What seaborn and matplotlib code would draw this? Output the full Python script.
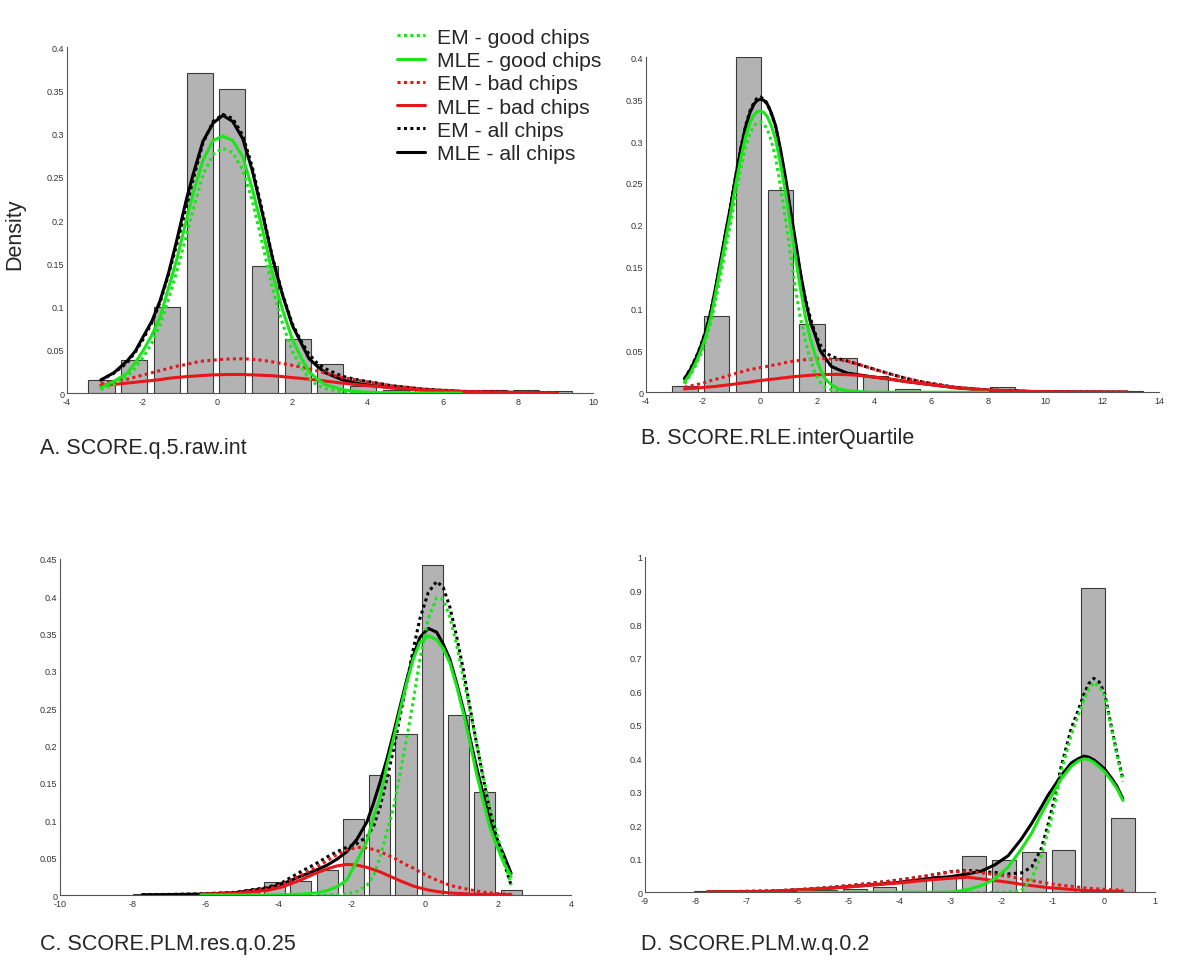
import numpy as np
import matplotlib
matplotlib.use("Agg")
import matplotlib.pyplot as plt
from matplotlib.ticker import FuncFormatter, MultipleLocator
import seaborn as sns

nan = np.nan

# --- Panel A: SCORE.q.5.raw.int ---
a_bar_x = [-3.08, -2.21, -1.34, -0.47, 0.40, 1.27, 2.14, 3.01, 3.88, 4.75, 5.62, 6.49, 7.36, 8.23, 9.10]
a_bar_h = [0.015, 0.038, 0.100, 0.370, 0.352, 0.147, 0.063, 0.034, 0.008, 0.004, 0.003, 0.002, 0.003, 0.003, 0.002]
a_x = [-3.1, -2.75, -2.4, -2.18, -1.96, -1.74, -1.52, -1.3, -1.08, -0.82, -0.64, -0.38, -0.11, 0.15, 0.41,
       0.68, 0.94, 1.21, 1.47, 1.74, 2.0, 2.22, 2.44, 2.66, 2.88, 3.32, 3.76, 4.2, 4.64, 5.5, 6.5, 7.5, 8.5, 9.05]
a_em_good = [0.004, 0.0096, 0.019, 0.029, 0.042, 0.058, 0.079, 0.108, 0.140, 0.182, 0.212, 0.252, 0.276, 0.283, 0.278,
             0.258, 0.221, 0.171, 0.121, 0.080, 0.048, 0.031, 0.017, 0.009, 0.005, 0.0015, 0.0005, 0.0002, 0.0,
             nan, nan, nan, nan, nan]
a_mle_good = [0.006, 0.0135, 0.023, 0.035, 0.050, 0.067, 0.088, 0.121, 0.154, 0.200, 0.231, 0.269, 0.292, 0.297, 0.292,
              0.273, 0.235, 0.188, 0.138, 0.096, 0.062, 0.042, 0.025, 0.016, 0.0096, 0.004, 0.0015, 0.0005, 0.0002,
              0.0, 0.0, nan, nan, nan]
a_em_bad = [0.011, 0.0135, 0.016, 0.0185, 0.021, 0.0235, 0.026, 0.0285, 0.031, 0.033, 0.035, 0.037, 0.038, 0.039, 0.0395,
            0.0396, 0.039, 0.0378, 0.036, 0.034, 0.032, 0.030, 0.028, 0.0255, 0.023, 0.018, 0.0146, 0.0115, 0.0085,
            0.0045, 0.002, 0.001, 0.0005, 0.0003]
a_mle_bad = [0.009, 0.010, 0.0115, 0.0125, 0.0135, 0.0145, 0.0155, 0.017, 0.018, 0.019, 0.0195, 0.0203, 0.021, 0.0213,
             0.0215, 0.0214, 0.021, 0.0205, 0.020, 0.019, 0.0178, 0.017, 0.016, 0.015, 0.0138, 0.0115, 0.0095, 0.0078,
             0.006, 0.0035, 0.0017, 0.0008, 0.0004, 0.0002]
a_em_all = [0.015, 0.023, 0.035, 0.0475, 0.063, 0.0815, 0.105, 0.1365, 0.171, 0.215, 0.247, 0.289, 0.314, 0.322, 0.3175,
            0.298, 0.260, 0.209, 0.157, 0.114, 0.080, 0.061, 0.045, 0.0345, 0.028, 0.0195, 0.015, 0.012, 0.0085,
            0.0045, 0.002, 0.001, 0.0005, 0.0003]
a_mle_all = [0.015, 0.0235, 0.037, 0.0485, 0.066, 0.083, 0.107, 0.138, 0.176, 0.224, 0.253, 0.291, 0.312, 0.321, 0.314,
             0.294, 0.256, 0.206, 0.156, 0.113, 0.078, 0.059, 0.040, 0.031, 0.0234, 0.0155, 0.011, 0.0083, 0.0062,
             0.0035, 0.0017, 0.0008, 0.0004, 0.0002]

# --- Panel B: SCORE.RLE.interQuartile ---
b_bar_x = [-2.63, -1.52, -0.40, 0.71, 1.83, 2.94, 4.06, 5.17, 6.29, 7.40, 8.52, 9.63, 10.75, 11.86, 12.98]
b_bar_h = [0.007, 0.091, 0.400, 0.241, 0.082, 0.041, 0.020, 0.004, 0.002, 0.001, 0.006, 0.001, 0.001, 0.001, 0.002]
b_x = [-2.65, -2.45, -2.24, -2.07, -1.9, -1.72, -1.55, -1.38, -1.2, -1.02, -0.85, -0.68, -0.5, -0.35, -0.21, -0.1,
       0.02, 0.14, 0.26, 0.4, 0.55, 0.72, 0.9, 1.07, 1.24, 1.41, 1.59, 1.76, 1.94, 2.11, 2.29, 2.5, 2.76, 3.05,
       3.34, 3.92, 4.5, 5.08, 5.66, 6.83, 8.0, 9.5, 11.0, 12.9]
b_em_good = [0.010, 0.020, 0.033, 0.046, 0.062, 0.084, 0.110, 0.140, 0.172, 0.204, 0.236, 0.266, 0.293, 0.309, 0.318,
             0.322, 0.323, 0.320, 0.314, 0.300, 0.280, 0.246, 0.205, 0.165, 0.125, 0.090, 0.062, 0.040, 0.022, 0.012,
             0.006, 0.003, 0.0012, 0.0005, 0.0, 0.0, nan, nan, nan, nan, nan, nan, nan, nan]
b_mle_good = [0.012, 0.022, 0.036, 0.050, 0.067, 0.090, 0.119, 0.150, 0.183, 0.215, 0.248, 0.278, 0.306, 0.322, 0.331,
              0.335, 0.336, 0.334, 0.329, 0.318, 0.302, 0.273, 0.238, 0.200, 0.163, 0.126, 0.091, 0.065, 0.044, 0.028,
              0.016, 0.009, 0.004, 0.002, 0.001, 0.0, 0.0, 0.0, 0.0, 0.0, 0.0, nan, nan, nan]
b_em_bad = [0.006, 0.0075, 0.009, 0.0105, 0.012, 0.014, 0.0155, 0.017, 0.019, 0.021, 0.0225, 0.024, 0.026, 0.027, 0.028,
            0.029, 0.0295, 0.030, 0.031, 0.032, 0.033, 0.034, 0.0355, 0.0365, 0.0375, 0.038, 0.039, 0.0395, 0.0398,
            0.040, 0.040, 0.0397, 0.0388, 0.037, 0.0345, 0.0285, 0.0225, 0.017, 0.0125, 0.006, 0.0027, 0.001,
            0.0004, 0.0001]
b_mle_bad = [0.004, 0.0045, 0.005, 0.0055, 0.006, 0.0065, 0.007, 0.0078, 0.0085, 0.0092, 0.010, 0.0108, 0.0115, 0.0122,
             0.013, 0.0135, 0.014, 0.0145, 0.015, 0.0155, 0.016, 0.0168, 0.0175, 0.0182, 0.0188, 0.0193, 0.0198,
             0.0203, 0.0207, 0.021, 0.0212, 0.0213, 0.0213, 0.021, 0.0205, 0.0185, 0.016, 0.013, 0.0105, 0.0055,
             0.0025, 0.0009, 0.0003, 0.0001]
b_em_all = [0.016, 0.0275, 0.042, 0.0565, 0.074, 0.098, 0.1255, 0.157, 0.191, 0.225, 0.2585, 0.290, 0.319, 0.336, 0.346,
            0.351, 0.3525, 0.350, 0.345, 0.332, 0.318, 0.288, 0.252, 0.215, 0.178, 0.143, 0.112, 0.090, 0.070, 0.057,
            0.048, 0.043, 0.040, 0.0375, 0.0345, 0.0285, 0.0225, 0.017, 0.0125, 0.006, 0.0027, 0.001, 0.0004, 0.0001]
b_mle_all = [0.016, 0.0265, 0.041, 0.0555, 0.073, 0.0965, 0.126, 0.158, 0.1915, 0.224, 0.258, 0.289, 0.3175, 0.334,
             0.344, 0.3485, 0.350, 0.3485, 0.344, 0.3335, 0.318, 0.290, 0.2555, 0.218, 0.1818, 0.145, 0.1108, 0.085,
             0.068, 0.050, 0.041, 0.031, 0.027, 0.023, 0.0215, 0.0185, 0.016, 0.013, 0.0105, 0.0055, 0.0025, 0.0009,
             0.0003, 0.0001]

# --- Panel C: SCORE.PLM.res.q.0.25 ---
c_bar_x = [-7.72, -7.00, -6.28, -5.56, -4.84, -4.12, -3.40, -2.68, -1.96, -1.24, -0.52, 0.20, 0.92, 1.64, 2.36]
c_bar_h = [0.002, 0.0, 0.0005, 0.001, 0.004, 0.017, 0.019, 0.0335, 0.102, 0.161, 0.216, 0.442, 0.241, 0.1375, 0.007]
c_x = [-7.75, -7.0, -6.14, -5.23, -4.32, -3.9, -3.41, -2.95, -2.68, -2.41, -2.14, -1.86, -1.59, -1.41, -1.23, -1.05,
       -0.86, -0.68, -0.5, -0.32, -0.14, 0.09, 0.32, 0.5, 0.68, 0.86, 1.05, 1.23, 1.41, 1.59, 1.77, 1.95, 2.14, 2.36]
c_em_good = [nan, nan, nan, nan, nan, nan, nan, 0.0, 0.0, 0.0005, 0.0015, 0.005, 0.013, 0.025, 0.051, 0.083,
             0.117, 0.163, 0.210, 0.260, 0.316, 0.370, 0.398, 0.396, 0.372, 0.337, 0.290, 0.248, 0.204, 0.160,
             0.119, 0.085, 0.051, 0.013]
c_mle_good = [nan, nan, 0.0, 0.0, 0.0, 0.0003, 0.001, 0.003, 0.006, 0.011, 0.020, 0.046, 0.072, 0.105, 0.130, 0.172,
              0.210, 0.248, 0.284, 0.316, 0.338, 0.347, 0.342, 0.330, 0.311, 0.281, 0.244, 0.205, 0.163, 0.127,
              0.092, 0.068, 0.045, 0.025]
c_em_bad = [nan, nan, 0.001, 0.003, 0.008, 0.014, 0.026, 0.038, 0.046, 0.054, 0.060, 0.064, 0.063, 0.061, 0.058, 0.054,
            0.050, 0.045, 0.040, 0.036, 0.031, 0.025, 0.020, 0.0166, 0.013, 0.011, 0.009, 0.007, 0.0054, 0.004,
            0.003, 0.002, 0.0015, 0.001]
c_mle_bad = [nan, nan, 0.0008, 0.002, 0.006, 0.011, 0.020, 0.030, 0.035, 0.039, 0.041, 0.040, 0.037, 0.034, 0.031, 0.027,
             0.023, 0.019, 0.0155, 0.012, 0.0095, 0.0067, 0.0048, 0.0036, 0.0028, 0.0022, 0.0018, 0.0014, 0.0012, 0.001,
             0.0008, 0.0007, 0.0006, 0.0005]
c_em_all = [0.0004, 0.0008, 0.0016, 0.0035, 0.010, 0.017, 0.031, 0.043, 0.051, 0.058, 0.064, 0.069, 0.078, 0.092, 0.118,
            0.154, 0.195, 0.240, 0.285, 0.329, 0.370, 0.405, 0.420, 0.412, 0.386, 0.348, 0.302, 0.252, 0.204, 0.158,
            0.115, 0.080, 0.048, 0.013]
c_mle_all = [0.0003, 0.0006, 0.0012, 0.003, 0.009, 0.015, 0.025, 0.034, 0.040, 0.048, 0.058, 0.075, 0.098, 0.123, 0.151,
             0.181, 0.217, 0.253, 0.288, 0.320, 0.345, 0.357, 0.352, 0.336, 0.316, 0.285, 0.249, 0.211, 0.172, 0.136,
             0.101, 0.076, 0.056, 0.029]

# --- Panel D: SCORE.PLM.w.q.0.2 ---
d_bar_x = [-7.815, -7.23, -6.645, -6.06, -5.475, -4.89, -4.305, -3.72, -3.135, -2.55, -1.965, -1.38, -0.795, -0.21, 0.375]
d_bar_h = [0.003, 0.003, 0.002, 0.004, 0.006, 0.010, 0.017, 0.035, 0.050, 0.108, 0.097, 0.119, 0.126, 0.907, 0.223]
d_x = [-7.78, -7.0, -6.5, -6.0, -5.5, -5.0, -4.5, -4.0, -3.5, -3.0, -2.67, -2.41, -2.14, -1.88, -1.62, -1.42,
       -1.23, -1.1, -0.97, -0.84, -0.64, -0.5, -0.39, -0.3, -0.2, -0.1, 0.01, 0.15, 0.25, 0.37]
d_em_good = [nan, nan, nan, nan, nan, nan, nan, nan, nan, 0.0, 0.0, 0.0, 0.0, 0.0005, 0.005, 0.040,
             0.109, 0.179, 0.259, 0.360, 0.470, 0.530, 0.575, 0.605, 0.626, 0.615, 0.586, 0.485, 0.410, 0.330]
d_mle_good = [nan, nan, nan, 0.0, 0.0, 0.0, 0.0, 0.0, 0.0, 0.0005, 0.008, 0.020, 0.040, 0.075, 0.129, 0.176,
              0.234, 0.269, 0.304, 0.338, 0.376, 0.392, 0.398, 0.396, 0.388, 0.375, 0.360, 0.332, 0.310, 0.274]
d_em_bad = [0.001, 0.003, 0.004, 0.008, 0.013, 0.020, 0.028, 0.036, 0.048, 0.061, 0.062, 0.058, 0.053, 0.048, 0.040,
            0.035, 0.030, 0.027, 0.024, 0.021, 0.018, 0.0155, 0.013, 0.012, 0.011, 0.010, 0.009, 0.0075, 0.007, 0.006]
d_mle_bad = [0.001, 0.002, 0.003, 0.007, 0.011, 0.016, 0.022, 0.028, 0.036, 0.042, 0.045, 0.040, 0.035, 0.030, 0.024,
             0.020, 0.0165, 0.014, 0.0125, 0.011, 0.0085, 0.0065, 0.005, 0.0048, 0.0045, 0.0042, 0.004, 0.0035,
             0.0032, 0.003]
d_em_all = [0.001, 0.003, 0.004, 0.008, 0.013, 0.020, 0.028, 0.037, 0.048, 0.062, 0.065, 0.063, 0.059, 0.055, 0.058,
            0.075, 0.130, 0.200, 0.280, 0.375, 0.490, 0.545, 0.592, 0.622, 0.638, 0.628, 0.595, 0.490, 0.418, 0.338]
d_mle_all = [0.001, 0.002, 0.003, 0.007, 0.011, 0.017, 0.023, 0.030, 0.040, 0.047, 0.055, 0.063, 0.082, 0.109, 0.159,
             0.205, 0.254, 0.289, 0.318, 0.348, 0.386, 0.399, 0.406, 0.403, 0.395, 0.383, 0.368, 0.340, 0.317, 0.279]

titles = ["A. SCORE.q.5.raw.int", "B. SCORE.RLE.interQuartile",
          "C. SCORE.PLM.res.q.0.25", "D. SCORE.PLM.w.q.0.2"]
legend_labels = ["EM - good chips", "MLE - good chips", "EM - bad chips",
                 "MLE - bad chips", "EM - all chips", "MLE - all chips"]

sns.set_style("white")
plt.rcParams["font.family"] = ["Liberation Sans", "DejaVu Sans"]
plt.rcParams["axes.unicode_minus"] = False

GREEN = "#19e619"
RED = "#e8161b"
BLACK = "#000000"
DOT = (0, (1, 1.1))

fig = plt.figure(figsize=(12, 9.62), dpi=100)

panels = [
    dict(rect=[0.0558, 0.5904, 0.4383, 0.3597], bx=a_bar_x, bh=a_bar_h, x=a_x,
         curves=[a_em_all, a_mle_all, a_em_bad, a_mle_bad, a_em_good, a_mle_good],
         xlim=(-4, 10), xstep=2, ylim=0.4, ystep=0.05, title_pos=(0.0333, 0.5343)),
    dict(rect=[0.5383, 0.5912, 0.4275, 0.3482], bx=b_bar_x, bh=b_bar_h, x=b_x,
         curves=[b_em_all, b_mle_all, b_em_bad, b_mle_bad, b_em_good, b_mle_good],
         xlim=(-4, 14), xstep=2, ylim=0.4, ystep=0.05, title_pos=(0.534, 0.5437)),
    dict(rect=[0.05, 0.0686, 0.4258, 0.3493], bx=c_bar_x, bh=c_bar_h, x=c_x,
         curves=[c_em_all, c_mle_all, c_em_bad, c_mle_bad, c_em_good, c_mle_good],
         xlim=(-10, 4), xstep=2, ylim=0.45, ystep=0.05, title_pos=(0.0333, 0.0187)),
    dict(rect=[0.5375, 0.0714, 0.425, 0.3486], bx=d_bar_x, bh=d_bar_h, x=d_x,
         curves=[d_em_all, d_mle_all, d_em_bad, d_mle_bad, d_em_good, d_mle_good],
         xlim=(-9, 1), xstep=1, ylim=1.0, ystep=0.1, title_pos=(0.534, 0.0187)),
]
# drawing order: all chips, bad chips, good chips
styles = [(BLACK, DOT, "EM - all chips"), (BLACK, "-", "MLE - all chips"),
          (RED, DOT, "EM - bad chips"), (RED, "-", "MLE - bad chips"),
          (GREEN, DOT, "EM - good chips"), (GREEN, "-", "MLE - good chips")]

fmt = FuncFormatter(lambda v, p: "%g" % round(v, 4))
axes = []
for i, p in enumerate(panels):
    ax = fig.add_axes(p["rect"])
    axes.append(ax)
    centers = np.array(p["bx"])
    mids = (centers[:-1] + centers[1:]) / 2
    edges = [2 * centers[0] - mids[0]] + list(mids) + [2 * centers[-1] - mids[-1]]
    sns.histplot(x=p["bx"], weights=p["bh"], bins=[float(e) for e in edges], shrink=0.8,
                 color="#b3b3b3", edgecolor="#3a3a3a", linewidth=0.8, alpha=1, ax=ax)
    for ys, (col, ls, lab) in zip(p["curves"], styles):
        sns.lineplot(x=p["x"], y=ys, color=col, linestyle=ls, linewidth=2.2,
                     label=lab if i == 0 else None, ax=ax, legend=False)
    if ax.get_legend() is not None:
        ax.get_legend().remove()
    ax.set_xlim(*p["xlim"])
    ax.set_ylim(0, p["ylim"])
    ax.xaxis.set_major_locator(MultipleLocator(p["xstep"]))
    ax.yaxis.set_major_locator(MultipleLocator(p["ystep"]))
    ax.xaxis.set_major_formatter(fmt)
    ax.yaxis.set_major_formatter(fmt)
    ax.set(xlabel="", ylabel="")
    sns.despine(ax=ax)
    for s in ["left", "bottom"]:
        ax.spines[s].set_color("#555555")
        ax.spines[s].set_linewidth(0.8)
    ax.tick_params(direction="in", length=3, width=0.7, color="#555555",
                   labelsize=6.5, labelcolor="#333333")
    ax.tick_params(axis="x", pad=3)
    ax.tick_params(axis="y", pad=2)
    fig.text(p["title_pos"][0], p["title_pos"][1], titles[i], fontsize=15.5,
             ha="left", va="center")

fig.text(0.0125, 0.756, "Density", rotation=90, fontsize=15.5, ha="center", va="center")

handles, labels = axes[0].get_legend_handles_labels()
lookup = dict(zip(labels, handles))
fig.legend([lookup[l] for l in legend_labels], legend_labels, loc="upper left",
           bbox_to_anchor=(0.3308, 0.970), frameon=False, fontsize=15.2,
           handlelength=1.35, handletextpad=0.55, labelspacing=0.2, borderpad=0,
           borderaxespad=0)

fig.savefig("out.png", dpi=100)
